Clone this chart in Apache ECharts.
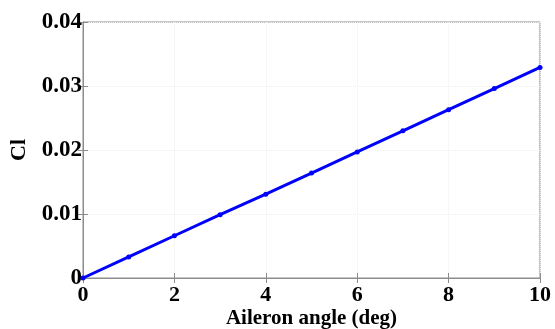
<!DOCTYPE html>
<html>
<head>
<meta charset="utf-8">
<script src="https://cdn.jsdelivr.net/npm/echarts@6/dist/echarts.min.js"></script>
<style>
html, body { margin: 0; padding: 0; background: #fff; }
#chart { width: 555px; height: 329px; }
</style>
</head>
<body>
<div id="chart"></div>
<script>
// aileron deflection vs rolling moment coefficient
var angles = [0, 1, 2, 3, 4, 5, 6, 7, 8, 9, 10];
var clValues = [0, 0.0033, 0.0066, 0.0099, 0.0131, 0.0164, 0.0197, 0.023, 0.0263, 0.0296, 0.0329];

var pts = [];
for (var i = 0; i < angles.length; i++) {
	pts.push([angles[i], clValues[i]]);
}

var font = 'Liberation Serif';
var axisGrey = '#8c8c8c';

var myChart = echarts.init(document.getElementById('chart'));
var option = {
	animation: false,
	grid: {
		left: 83, right: 15, top: 22, bottom: 51,
		outerBoundsMode: 'none',
		show: true, borderColor: axisGrey, borderWidth: 1
	},
	xAxis: [{
		type: 'value',
		min: 0, max: 10, interval: 2,
		name: 'Aileron angle (deg)',
		nameLocation: 'middle',
		nameGap: 30,
		nameMoveOverlap: false,
		nameTextStyle: { fontFamily: font, fontWeight: 'bold', fontSize: 21, color: '#000' },
		axisLine: { lineStyle: { color: axisGrey } },
		axisTick: { inside: true, length: 5, lineStyle: { color: axisGrey } },
		axisLabel: { fontFamily: font, fontWeight: 'bold', fontSize: 22, color: '#000', margin: 6 },
		splitLine: { show: true, lineStyle: { color: '#eeeeee', type: 'dotted' } }
	}, {
		type: 'value', position: 'top',
		min: 0, max: 10, interval: 2,
		axisLine: { show: false },
		axisTick: { inside: true, length: 5, lineStyle: { color: axisGrey } },
		axisLabel: { show: false },
		splitLine: { show: false }
	}],
	yAxis: [{
		type: 'value',
		min: 0, max: 0.04, interval: 0.01,
		name: 'Cl',
		nameLocation: 'middle',
		nameGap: 53,
		nameMoveOverlap: false,
		nameTextStyle: { fontFamily: font, fontWeight: 'bold', fontSize: 22, color: '#000' },
		axisLine: { show: true, lineStyle: { color: axisGrey } },
		axisTick: { show: true, inside: true, length: 5, lineStyle: { color: axisGrey } },
		axisLabel: {
			fontFamily: font, fontWeight: 'bold', fontSize: 23, color: '#000', margin: 1,
			formatter: function (v) { return v === 0 ? '0' : v.toFixed(2); }
		},
		splitLine: { show: true, lineStyle: { color: '#eeeeee', type: 'dotted' } }
	}, {
		type: 'value', position: 'right',
		min: 0, max: 0.04, interval: 0.01,
		axisLine: { show: false },
		axisTick: { show: true, inside: true, length: 5, lineStyle: { color: axisGrey } },
		axisLabel: { show: false },
		splitLine: { show: false }
	}],
	series: [{
		type: 'line',
		data: pts,
		symbol: 'circle',
		symbolSize: 5,
		lineStyle: { color: '#0000ff', width: 3 },
		itemStyle: { color: '#0000ff' }
	}]
};
myChart.setOption(option);
</script>
</body>
</html>
